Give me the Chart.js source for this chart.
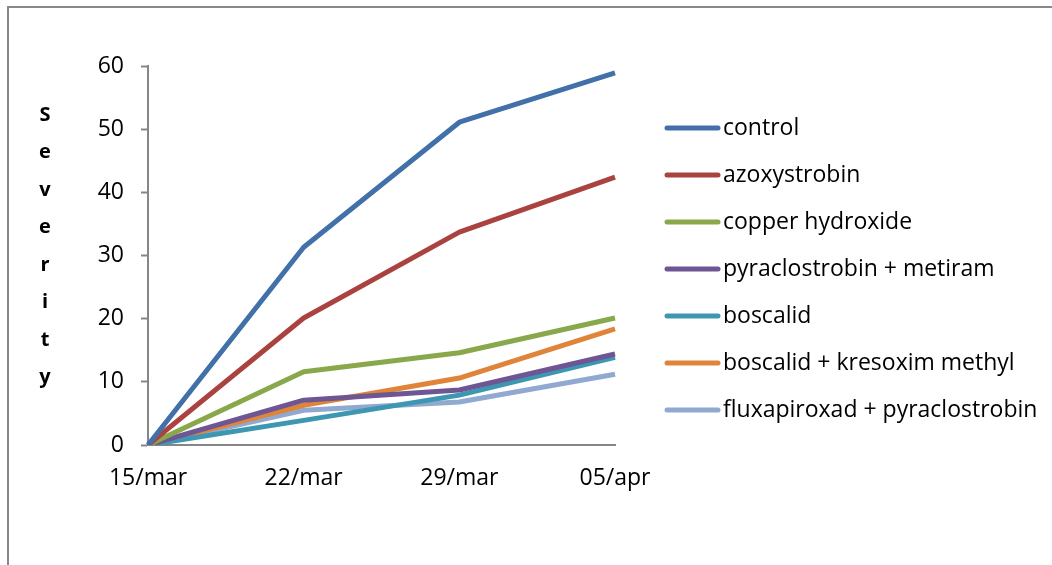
<!DOCTYPE html>
<html>
<head>
<meta charset="utf-8">
<script src="https://cdn.jsdelivr.net/npm/chart.js@4"></script>
<style>
  html, body { margin: 0; padding: 0; background: #fff; }
  #wrap { position: relative; width: 1052px; height: 565px; }
  #frame { position: absolute; left: 7px; top: 6px; width: 1100px; height: 600px;
           border-left: 2px solid #888; border-top: 2px solid #888; }
</style>
</head>
<body>
<div id="wrap">
  <div id="frame"></div>
  <canvas id="chart-severity" width="1052" height="565"></canvas>
</div>
<script>
// dates of assessment
const dates = ['15/mar', '22/mar', '29/mar', '05/apr'];
const yTicks = [0, 10, 20, 30, 40, 50, 60];
const yTitle = 'Severity';

// disease severity per treatment
const control = [0, 31.3, 51.1, 58.9];
const azoxystrobin = [0, 20.1, 33.7, 42.4];
const copperHydroxide = [0, 11.6, 14.6, 20.1];
const pyraclostrobinMetiram = [0, 7.1, 8.7, 14.4];
const boscalid = [0, 3.9, 7.9, 13.9];
const boscalidKresoxim = [0, 6.3, 10.6, 18.4];
const fluxapiroxadPyraclostrobin = [0, 5.5, 6.8, 11.2];

const seriesNames = ['control', 'azoxystrobin', 'copper hydroxide', 'pyraclostrobin + metiram',
    'boscalid', 'boscalid + kresoxim methyl', 'fluxapiroxad + pyraclostrobin'];
const seriesData = [control, azoxystrobin, copperHydroxide, pyraclostrobinMetiram,
    boscalid, boscalidKresoxim, fluxapiroxadPyraclostrobin];
const seriesColors = ['#4271AA', '#AA4240', '#89A84B', '#6E5594', '#3D97B1', '#E0843A', '#8FA9D0'];

const FONT = "'Open Sans', sans-serif";

// legend on the right, drawn from the datasets
const sideLegend = {
    id: 'sideLegend',
    afterDraw(chart) {
        const ctx = chart.ctx;
        ctx.save();
        ctx.font = '23px ' + FONT;
        ctx.textBaseline = 'middle';
        ctx.lineCap = 'round';
        chart.data.datasets.forEach((ds, i) => {
            const y = 128 + i * 47;
            ctx.strokeStyle = ds.borderColor;
            ctx.lineWidth = 5;
            ctx.beginPath();
            ctx.moveTo(667, y);
            ctx.lineTo(718, y);
            ctx.stroke();
            ctx.fillStyle = '#000';
            ctx.fillText(ds.label, 723, y);
        });
        ctx.restore();
    }
};

// stacked vertical axis title
const stackedTitle = {
    id: 'stackedTitle',
    afterDraw(chart) {
        const ctx = chart.ctx;
        ctx.save();
        ctx.font = 'bold 20px ' + FONT;
        ctx.fillStyle = '#000';
        ctx.textAlign = 'center';
        ctx.textBaseline = 'middle';
        yTitle.split('').forEach((ch, i) => {
            ctx.fillText(ch, 45, 115 + i * 37.5);
        });
        ctx.restore();
    }
};

document.addEventListener("DOMContentLoaded", () => {
    const ctx = document.getElementById("chart-severity").getContext('2d');
    new Chart(ctx, {
        type: 'line',
        data: {
            labels: dates,
            datasets: seriesNames.map((name, i) => ({
                label: name,
                data: seriesData[i],
                borderColor: seriesColors[i],
                backgroundColor: seriesColors[i],
                borderWidth: 5,
                pointRadius: 0,
                tension: 0,
                fill: false,
                borderJoinStyle: 'round'
            }))
        },
        options: {
            responsive: false,
            animation: false,
            layout: { padding: { left: 0, top: 66, right: 437, bottom: 70 } },
            plugins: { legend: { display: false }, tooltip: { enabled: false } },
            scales: {
                x: {
                    offset: false,
                    grid: { display: false, tickLength: 0 },
                    border: { color: '#868686', width: 2 },
                    ticks: { color: '#000', font: { family: FONT, size: 23 }, padding: 20, maxRotation: 0 },
                    afterFit(scale) { scale.height = 50; }
                },
                y: {
                    min: 0, max: 60,
                    afterBuildTicks(scale) { scale.ticks = yTicks.map(v => ({ value: v })); },
                    grid: { display: true, drawOnChartArea: false, drawTicks: true, tickLength: 7, tickColor: '#868686', tickWidth: 2 },
                    border: { color: '#868686', width: 2 },
                    ticks: { color: '#000', font: { family: FONT, size: 23 }, padding: 17 },
                    afterFit(scale) { scale.width = 148; }
                }
            }
        },
        plugins: [sideLegend, stackedTitle]
    });
});
</script>
</body>
</html>
